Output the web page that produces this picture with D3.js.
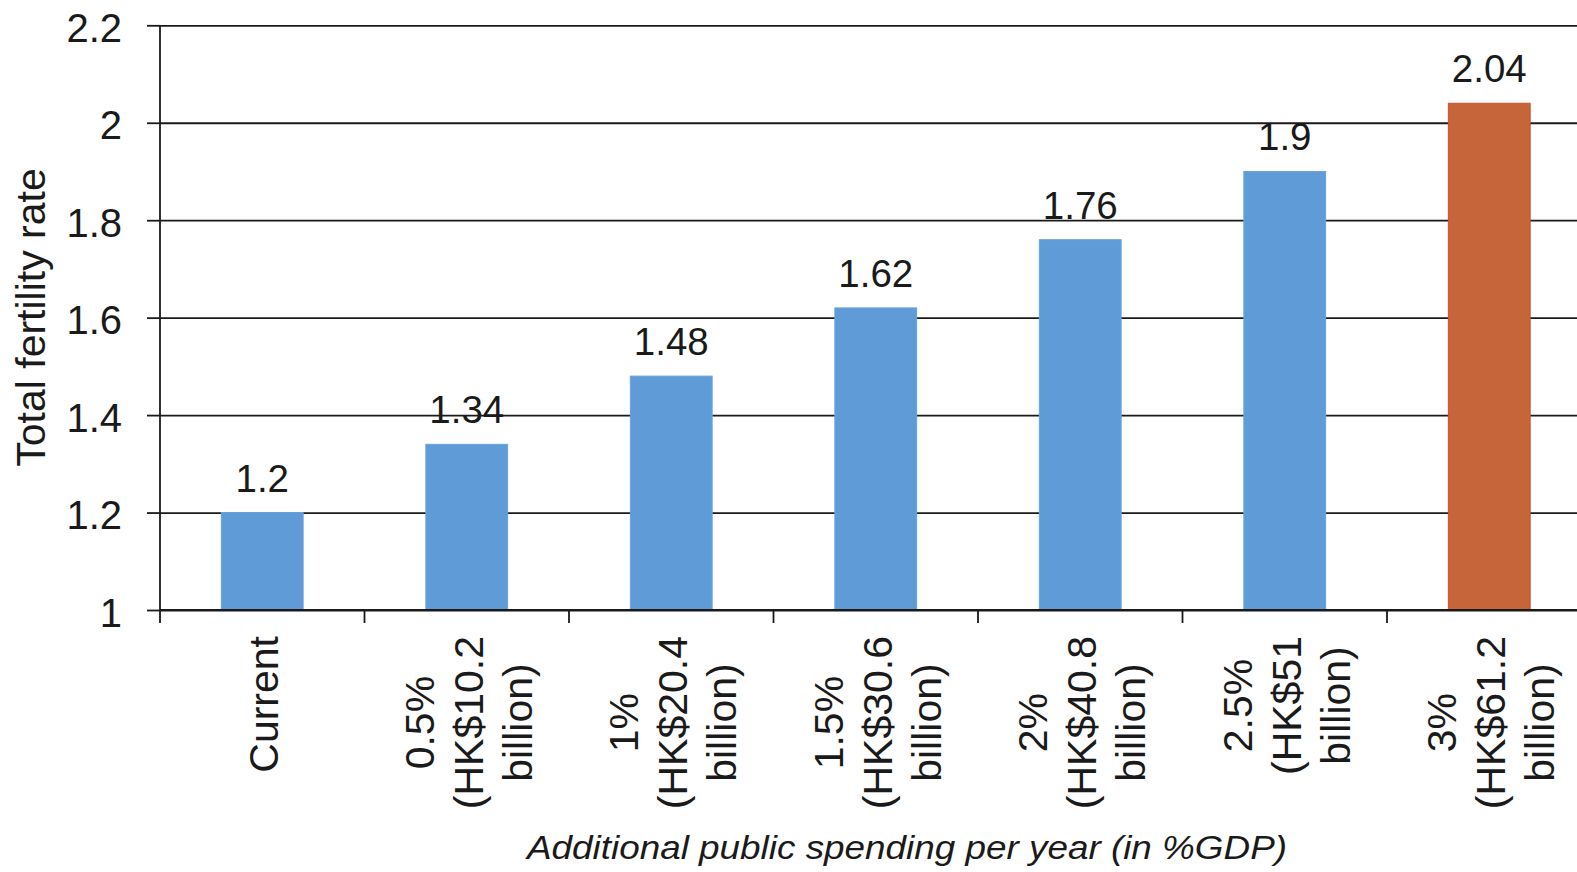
<!DOCTYPE html>
<html>
<head>
<meta charset="utf-8">
<script src="https://cdn.jsdelivr.net/npm/d3@7"></script>
<style>
  html, body { margin: 0; padding: 0; background: #fff; }
  svg { display: block; }
  text { font-family: "Liberation Sans", Arial, Helvetica, sans-serif; fill: #1a1a1a; }
</style>
</head>
<body>
<svg id="chart" width="1577" height="872"></svg>
<script>
// ---- data ----
const categories = [
  "Current",
  "0.5%\n(HK$10.2\nbillion)",
  "1%\n(HK$20.4\nbillion)",
  "1.5%\n(HK$30.6\nbillion)",
  "2%\n(HK$40.8\nbillion)",
  "2.5%\n(HK$51\nbillion)",
  "3%\n(HK$61.2\nbillion)"
];
const values = [1.2, 1.34, 1.48, 1.62, 1.76, 1.9, 2.04];
const highlightedCategory = "3%\n(HK$61.2\nbillion)";
const yTicks = [1, 1.2, 1.4, 1.6, 1.8, 2, 2.2];
const yTickLabels = ["1", "1.2", "1.4", "1.6", "1.8", "2", "2.2"];
const yTitle = "Total fertility rate";
const xTitle = "Additional public spending per year (in %GDP)";

(function () {
  // ---- layout ----
  const W = 1577;
  const plotLeft = 160, plotBottom = 610, plotTop = 25.3, plotRightEnd = 1591.5;
  const svg = d3.select("#chart");

  const x = d3.scaleBand().domain(categories).range([plotLeft, plotRightEnd])
    .paddingInner(0.6).paddingOuter(0.3);
  const y = d3.scaleLinear().domain([1, 2.2]).range([plotBottom, plotTop]);

  const ink = "#1a1a1a";

  // gridlines
  const grid = svg.append("g").attr("transform", `translate(${plotLeft},0)`)
    .call(d3.axisLeft(y).tickValues(yTicks).tickSize(-(W - plotLeft)).tickFormat(""));
  grid.select(".domain").remove();
  grid.selectAll("line").attr("stroke", ink).attr("stroke-width", 1.8);

  // bars
  const data = categories.map((c, i) => ({ c, v: values[i] }));
  svg.append("g").selectAll("rect").data(data).join("rect")
    .attr("x", d => x(d.c))
    .attr("y", d => y(d.v))
    .attr("width", x.bandwidth())
    .attr("height", d => y(1) - y(d.v))
    .attr("fill", d => d.c === highlightedCategory ? "#c6643a" : "#5f9bd6")
    .attr("stroke", d => d.c === highlightedCategory ? "#c9502e" : "#6aa3dc")
    .attr("stroke-width", 1);

  // y axis
  const yAxis = svg.append("g").attr("transform", `translate(${plotLeft},0)`)
    .call(d3.axisLeft(y).tickValues(yTicks).tickSize(13).tickPadding(25)
      .tickFormat((d, i) => yTickLabels[i]));
  yAxis.select(".domain").remove();
  yAxis.selectAll("line").attr("stroke", ink).attr("stroke-width", 1.8);
  yAxis.selectAll("text").attr("font-size", 40).attr("dy", "0.4em")
    .style("font-family", "'Liberation Sans', Arial, sans-serif").attr("fill", ink);
  svg.append("line").attr("x1", plotLeft).attr("x2", plotLeft)
    .attr("y1", plotTop).attr("y2", plotBottom + 13)
    .attr("stroke", ink).attr("stroke-width", 1.8);

  // x axis line and boundary ticks
  svg.append("line").attr("x1", plotLeft).attr("x2", W)
    .attr("y1", plotBottom).attr("y2", plotBottom)
    .attr("stroke", ink).attr("stroke-width", 1.8);
  const gap = (x.step() - x.bandwidth()) / 2;
  const boundaries = categories.map(c => x(c) - gap)
    .concat([x(categories[categories.length - 1]) + x.bandwidth() + gap]);
  svg.append("g").selectAll("line").data(boundaries.slice(1)).join("line")
    .attr("x1", d => d).attr("x2", d => d)
    .attr("y1", plotBottom).attr("y2", plotBottom + 13)
    .attr("stroke", ink).attr("stroke-width", 1.8);

  // value labels
  svg.append("g").selectAll("text").data(data).join("text")
    .attr("x", d => x(d.c) + x.bandwidth() / 2)
    .attr("y", d => y(d.v) - 21)
    .attr("text-anchor", "middle")
    .attr("font-size", 38.5)
    .text(d => String(d.v));

  // x tick labels (rotated, multi-line, centred)
  const labelTop = 636, lineStep = 49, fs = 41;
  categories.forEach(c => {
    const lines = c.split("\n");
    const cx = x(c) + x.bandwidth() / 2;
    const g = svg.append("g").attr("transform", `translate(${cx},0) rotate(-90)`);
    const texts = lines.map((ln, i) => g.append("text")
      .attr("font-size", fs)
      .attr("text-anchor", "middle")
      .attr("y", (i - (lines.length - 1) / 2) * lineStep + 16)
      .text(ln));
    const maxW = d3.max(texts, t => t.node().getComputedTextLength());
    texts.forEach(t => t.attr("x", -(labelTop + maxW / 2)));
  });

  // y title
  svg.append("text")
    .attr("transform", `translate(45,317.5) rotate(-90)`)
    .attr("text-anchor", "middle")
    .attr("font-size", 41)
    .text(yTitle);

  // x title
  svg.append("text")
    .attr("x", 907).attr("y", 859)
    .attr("text-anchor", "middle")
    .attr("font-size", 33)
    .attr("font-style", "italic")
    .attr("textLength", 760)
    .attr("lengthAdjust", "spacingAndGlyphs")
    .text(xTitle);
})();
</script>
</body>
</html>
